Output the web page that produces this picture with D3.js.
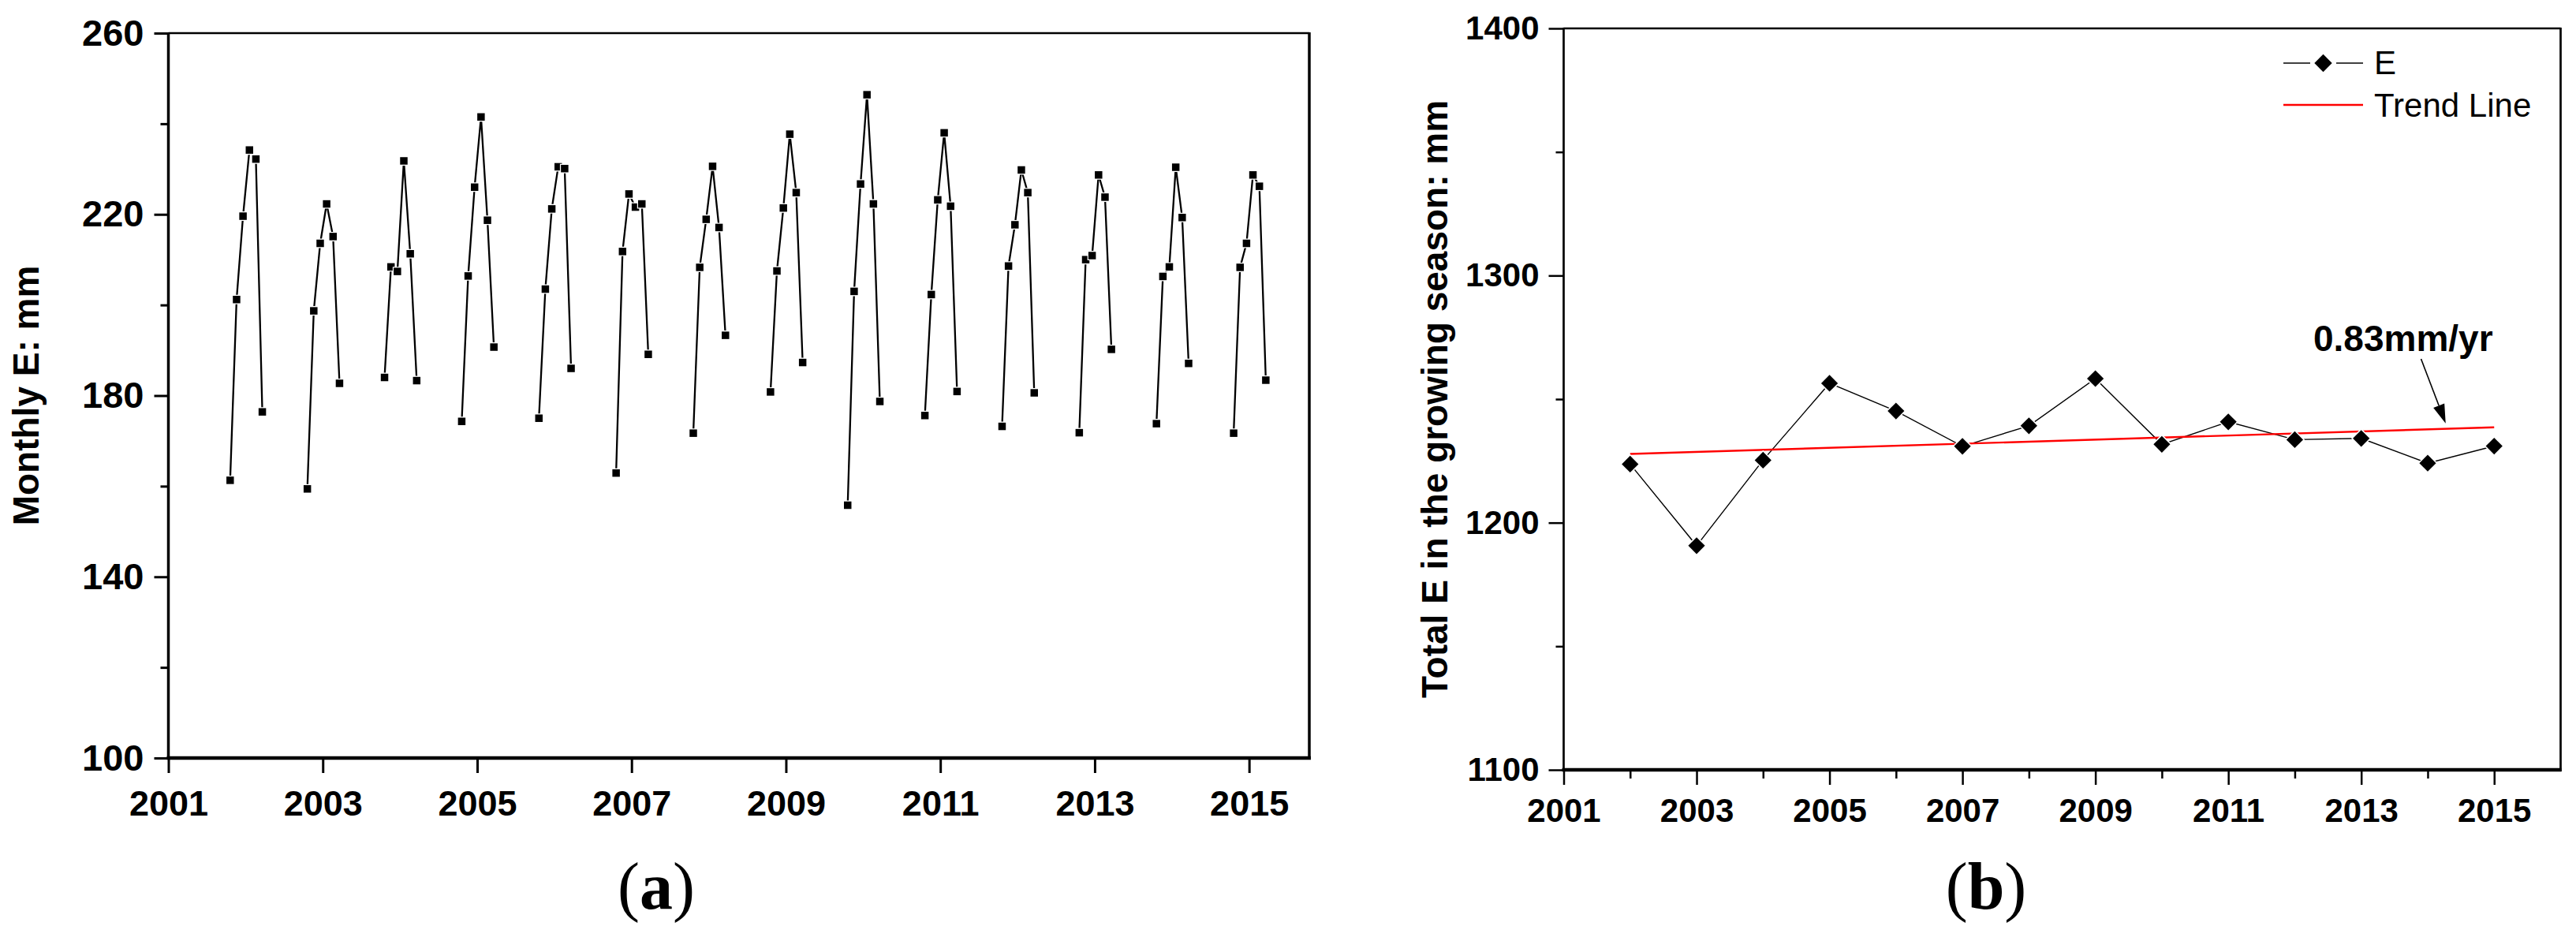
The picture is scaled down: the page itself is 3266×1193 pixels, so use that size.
<!DOCTYPE html>
<html><head><meta charset="utf-8">
<script src="https://cdn.jsdelivr.net/npm/d3@7"></script>
<style>body{margin:0;background:#fff} svg{display:block}</style>
</head><body><svg id="c" width="3266" height="1193"></svg>
<script>
// ---------- data ----------
const seasonYears = [2002,2003,2004,2005,2006,2007,2008,2009,2010,2011,2012,2013,2014,2015];
const monthSteps = [0,1,2,3,4,5];          // consecutive months in each season
const seasonStartOffset = -0.2;            // season starts ~0.2 yr before the year mark
const monthlyE = [
  [161.3,201.2,219.6,234.2,232.2,176.4],
  [159.4,198.7,213.6,222.3,215.1,182.7],
  [184.0,208.4,207.4,231.8,211.3,183.3],
  [174.3,206.4,226.0,241.5,218.7,190.7],
  [175.0,203.5,221.2,230.5,230.1,186.0],
  [162.9,211.8,224.5,221.6,222.3,189.1],
  [171.7,208.3,218.9,230.6,217.1,193.3],
  [180.8,207.5,221.4,237.7,224.8,187.3],
  [155.8,203.0,226.7,246.4,222.3,178.7],
  [175.6,202.3,223.2,238.0,221.8,180.9],
  [173.2,208.6,217.7,229.8,224.8,180.6],
  [171.8,210.0,210.9,228.7,223.8,190.2],
  [173.8,206.3,208.4,230.4,219.3,187.1],
  [171.7,208.3,213.6,228.7,226.2,183.4]
];
const annualYears = [2002,2003,2004,2005,2006,2007,2008,2009,2010,2011,2012,2013,2014,2015];
const annualE = [1223.7,1190.7,1225.3,1256.4,1245.2,1230.9,1239.2,1258.3,1231.7,1240.8,1233.6,1234.1,1224.1,1231.0];
const trendYears = [2002, 2015];
const trendE = [1227.8, 1238.6];

const leftYTicks = [100,140,180,220,260];
const leftYMinor = [120,160,200,240];
const leftXTicks = [2001,2003,2005,2007,2009,2011,2013,2015];
const rightYTicks = [1100,1200,1300,1400];
const rightYMinor = [1150,1250,1350];
const rightXTicks = [2001,2003,2005,2007,2009,2011,2013,2015];
const rightXMinor = [2002,2004,2006,2008,2010,2012,2014];
const legendLabels = ['E','Trend Line'];
const slopeLabel = '0.83mm/yr';
const leftYLabel = 'Monthly E: mm';
const rightYLabel = 'Total E in the growing season: mm';
const panelLabels = ['a','b'];

// ---------- drawing ----------
const svg = d3.select('#c');
svg.append('rect').attr('width',3266).attr('height',1193).attr('fill','#fff');
const SANS = '"Liberation Sans", Arial, sans-serif';
const SERIF = '"Liberation Serif", "Times New Roman", serif';

function styleAxis(g, sw, fs){
  g.select('.domain').remove();
  g.selectAll('.tick line').attr('stroke','#000').attr('stroke-width',sw);
  g.selectAll('.tick text').attr('fill','#000').attr('font-family',SANS)
    .attr('font-weight','bold').attr('font-size',fs);
}

// ===== Panel (a) =====
const L = {x0:213.5, x1:1660, y0:42, y1:961};
const xL = d3.scaleLinear().domain([2001, 2015.78]).range([L.x0, L.x1]);
const yL = d3.scaleLinear().domain([100, 260]).range([L.y1, L.y0]);

const gLa = svg.append('g');
// minor y ticks
gLa.append('g').attr('transform',`translate(${L.x0},0)`)
  .call(d3.axisLeft(yL).tickValues(leftYMinor).tickSize(10).tickFormat(''))
  .call(g=>styleAxis(g,3,46));
gLa.append('g').attr('transform',`translate(${L.x0},0)`)
  .call(d3.axisLeft(yL).tickValues(leftYTicks).tickSize(18).tickPadding(13).tickFormat(d3.format('d')))
  .call(g=>styleAxis(g,3,47));
gLa.append('g').attr('transform',`translate(0,${L.y1})`)
  .call(d3.axisBottom(xL).tickValues(leftXTicks).tickSize(19).tickPadding(22).tickFormat(d3.format('d')))
  .call(g=>styleAxis(g,3,45));
// frame
gLa.append('line').attr('x1',L.x0).attr('x2',L.x1).attr('y1',L.y0).attr('y2',L.y0).attr('stroke','#000').attr('stroke-width',2.5);
gLa.append('line').attr('x1',L.x1).attr('x2',L.x1).attr('y1',L.y0-1).attr('y2',L.y1+2).attr('stroke','#000').attr('stroke-width',3.5);
gLa.append('line').attr('x1',L.x0).attr('x2',L.x0).attr('y1',L.y0-1).attr('y2',L.y1+2).attr('stroke','#000').attr('stroke-width',3.5);
gLa.append('line').attr('x1',L.x0-2).attr('x2',L.x1+2).attr('y1',L.y1).attr('y2',L.y1).attr('stroke','#000').attr('stroke-width',4.5);

const seasons = seasonYears.map((yr,k)=>monthSteps.map((m,i)=>({x: yr + seasonStartOffset + m/12, y: monthlyE[k][i]})));
const lineL = d3.line().x(d=>xL(d.x)).y(d=>yL(d.y));
gLa.append('g').selectAll('path').data(seasons).join('path')
  .attr('d',lineL).attr('fill','none').attr('stroke','#000').attr('stroke-width',2.3);
const sq = d3.symbol(d3.symbolSquare, 90)();
gLa.append('g').selectAll('path').data(seasons.flat()).join('path')
  .attr('d',sq).attr('transform',d=>`translate(${xL(d.x)},${yL(d.y)})`)
  .attr('fill','#000').attr('stroke','#fff').attr('stroke-width',2.5).attr('paint-order','stroke');

gLa.append('text').attr('transform',`translate(49,${(L.y0+L.y1)/2}) rotate(-90)`)
  .attr('text-anchor','middle').attr('font-family',SANS).attr('font-weight','bold')
  .attr('font-size',46).text(leftYLabel);

// ===== Panel (b) =====
const R = {x0:1982.5, x1:3246.5, y0:36, y1:976};
const xR = d3.scaleLinear().domain([2001, 2016]).range([R.x0, R.x1]);
const yR = d3.scaleLinear().domain([1100, 1400]).range([R.y1, R.y0]);
const gRb = svg.append('g');
gRb.append('g').attr('transform',`translate(${R.x0},0)`)
  .call(d3.axisLeft(yR).tickValues(rightYMinor).tickSize(10).tickFormat(''))
  .call(g=>styleAxis(g,2.5,42));
gRb.append('g').attr('transform',`translate(${R.x0},0)`)
  .call(d3.axisLeft(yR).tickValues(rightYTicks).tickSize(19).tickPadding(12).tickFormat(d3.format('d')))
  .call(g=>styleAxis(g,2.5,42));
gRb.append('g').attr('transform',`translate(0,${R.y1})`)
  .call(d3.axisBottom(xR).tickValues(rightXMinor).tickSize(11).tickFormat(''))
  .call(g=>styleAxis(g,2.5,42));
gRb.append('g').attr('transform',`translate(0,${R.y1})`)
  .call(d3.axisBottom(xR).tickValues(rightXTicks).tickSize(19).tickPadding(17).tickFormat(d3.format('d')))
  .call(g=>styleAxis(g,2.5,42));
gRb.append('line').attr('x1',R.x0).attr('x2',R.x1).attr('y1',R.y0).attr('y2',R.y0).attr('stroke','#000').attr('stroke-width',2.7);
gRb.append('line').attr('x1',R.x1).attr('x2',R.x1).attr('y1',R.y0-1).attr('y2',R.y1+2).attr('stroke','#000').attr('stroke-width',2.7);
gRb.append('line').attr('x1',R.x0).attr('x2',R.x0).attr('y1',R.y0-1).attr('y2',R.y1+2).attr('stroke','#000').attr('stroke-width',2.7);
gRb.append('line').attr('x1',R.x0-2).attr('x2',R.x1+1).attr('y1',R.y1).attr('y2',R.y1).attr('stroke','#000').attr('stroke-width',4.5);

const annual = annualYears.map((yr,i)=>({x:yr, y:annualE[i]}));
const lineR = d3.line().x(d=>xR(d.x)).y(d=>yR(d.y));
gRb.append('path').datum(annual).attr('d',lineR).attr('fill','none').attr('stroke','#000').attr('stroke-width',1.4);
const trend = trendYears.map((yr,i)=>({x:yr, y:trendE[i]}));
gRb.append('path').datum(trend).attr('d',lineR).attr('fill','none').attr('stroke','#ff0000').attr('stroke-width',2.4);
const dia = d3.symbol(d3.symbolSquare, 225)();
gRb.append('g').selectAll('path').data(annual).join('path')
  .attr('d',dia).attr('transform',d=>`translate(${xR(d.x)},${yR(d.y)}) rotate(45)`)
  .attr('fill','#000').attr('stroke','#fff').attr('stroke-width',3).attr('paint-order','stroke');

gRb.append('text').attr('transform',`translate(1835,${(R.y0+R.y1)/2}) rotate(-90)`)
  .attr('text-anchor','middle').attr('font-family',SANS).attr('font-weight','bold')
  .attr('font-size',46).text(rightYLabel);

// legend
const lg = gRb.append('g');
lg.append('line').attr('x1',2895).attr('x2',2929).attr('y1',80).attr('y2',80).attr('stroke','#000').attr('stroke-width',1.4);
lg.append('line').attr('x1',2962).attr('x2',2996).attr('y1',80).attr('y2',80).attr('stroke','#000').attr('stroke-width',1.4);
lg.append('path').attr('d',d3.symbol(d3.symbolSquare, 250)()).attr('transform','translate(2945.5,80) rotate(45)').attr('fill','#000');
lg.append('line').attr('x1',2895).attr('x2',2996).attr('y1',133).attr('y2',133).attr('stroke','#ff0000').attr('stroke-width',2.4);
lg.selectAll('text').data(legendLabels).join('text')
  .attr('x',3010).attr('y',(d,i)=>[94,148][i]).attr('font-family',SANS).attr('font-size',42).attr('fill','#000').text(d=>d);

// annotation
gRb.append('text').attr('x',2933).attr('y',445).attr('font-family',SANS).attr('font-weight','bold').attr('font-size',46).text(slopeLabel);
const tail = [xR(2013.9), yR(1266.3)], tip = [xR(2014.27), yR(1240.2)];
const ang = Math.atan2(tip[1]-tail[1], tip[0]-tail[0]);
const hl = 24, hw = 7.5;
const base = [tip[0]-hl*Math.cos(ang), tip[1]-hl*Math.sin(ang)];
gRb.append('line').attr('x1',tail[0]).attr('y1',tail[1]).attr('x2',base[0]).attr('y2',base[1]).attr('stroke','#000').attr('stroke-width',1.6);
gRb.append('path').attr('d',`M${tip[0]},${tip[1]}L${base[0]+hw*Math.sin(ang)},${base[1]-hw*Math.cos(ang)}L${base[0]-hw*Math.sin(ang)},${base[1]+hw*Math.cos(ang)}Z`).attr('fill','#000');

// panel labels
const pl = svg.append('g');
[[832,panelLabels[0]],[2518,panelLabels[1]]].forEach(([cx,lab])=>{
  const t = pl.append('text').attr('x',cx).attr('y',1152).attr('text-anchor','middle')
    .attr('font-family',SERIF).attr('font-size',84).attr('fill','#000');
  t.append('tspan').text('(');
  t.append('tspan').attr('font-weight','bold').text(lab);
  t.append('tspan').text(')');
});
</script></body></html>
